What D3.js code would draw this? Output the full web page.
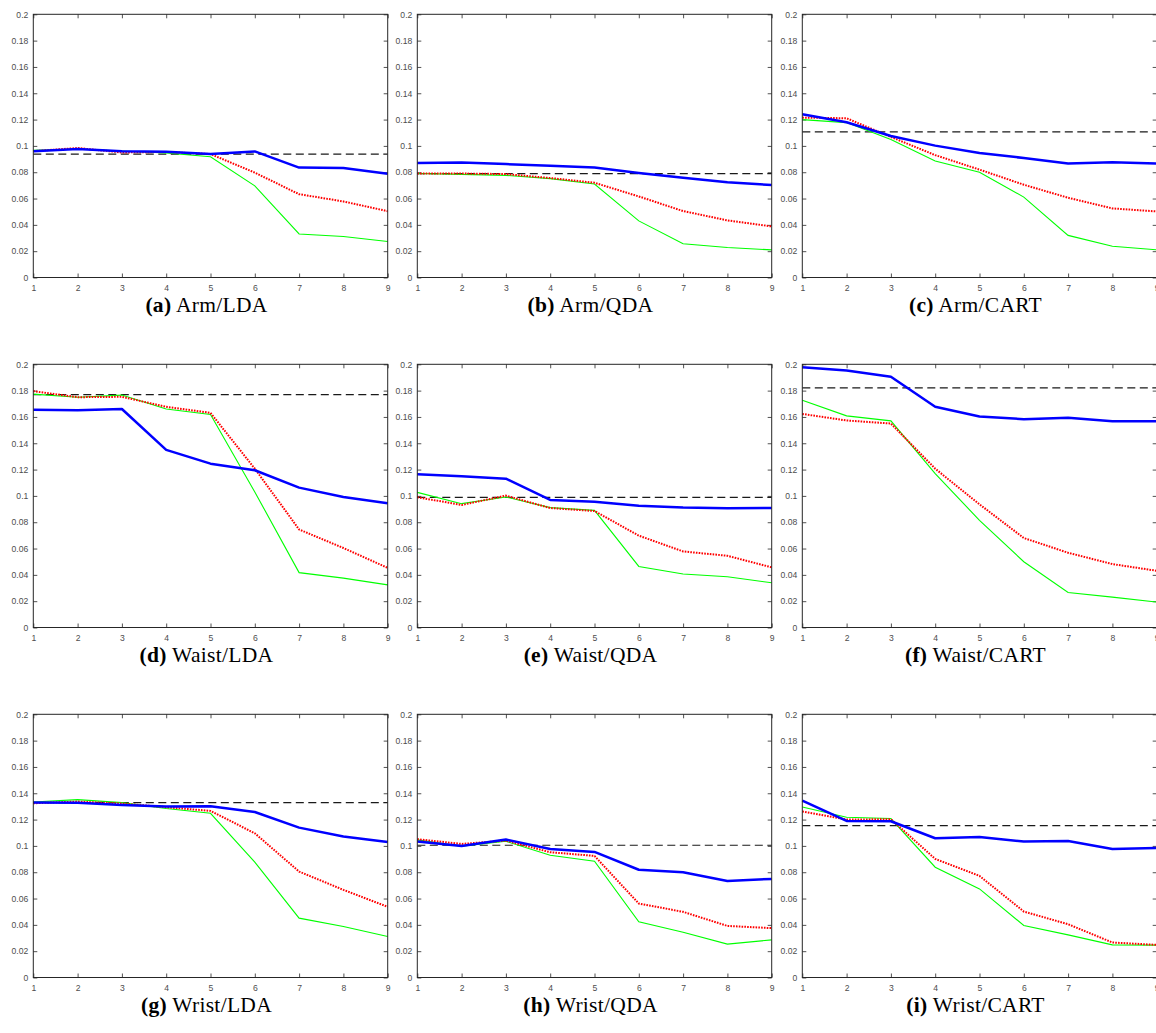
<!DOCTYPE html>
<html>
<head>
<meta charset="utf-8">
<script src="https://cdn.jsdelivr.net/npm/d3@7"></script>
<style>
  html, body { margin: 0; padding: 0; background: #fff; }
  svg { display: block; }
</style>
</head>
<body>
<svg id="chart" width="1156" height="1033"></svg>
<script>
// ---------- DATA ----------
const xValues = [1, 2, 3, 4, 5, 6, 7, 8, 9];
const xTickLabels = ["1", "2", "3", "4", "5", "6", "7", "8", "9"];
const yTicks = [0, 0.02, 0.04, 0.06, 0.08, 0.1, 0.12, 0.14, 0.16, 0.18, 0.2];
const yTickLabels = ["0", "0.02", "0.04", "0.06", "0.08", "0.1", "0.12", "0.14", "0.16", "0.18", "0.2"];

const panelLetters = ["a", "b", "c", "d", "e", "f", "g", "h", "i"];
const panelTitles = ["Arm/LDA", "Arm/QDA", "Arm/CART",
                     "Waist/LDA", "Waist/QDA", "Waist/CART",
                     "Wrist/LDA", "Wrist/QDA", "Wrist/CART"];

// blue solid (thick)
const blueSeries = [
  [0.0960, 0.0977, 0.0960, 0.0956, 0.0938, 0.0958, 0.0835, 0.0832, 0.0789],
  [0.0870, 0.0873, 0.0862, 0.0850, 0.0835, 0.0794, 0.0758, 0.0723, 0.0703],
  [0.1240, 0.1180, 0.1075, 0.1002, 0.0946, 0.0908, 0.0867, 0.0875, 0.0867],
  [0.1654, 0.1650, 0.1660, 0.1350, 0.1245, 0.1195, 0.1063, 0.0992, 0.0945],
  [0.1164, 0.1150, 0.1131, 0.0969, 0.0956, 0.0926, 0.0911, 0.0906, 0.0908],
  [0.1978, 0.1953, 0.1905, 0.1677, 0.1603, 0.1583, 0.1593, 0.1568, 0.1568],
  [0.1330, 0.1327, 0.1311, 0.1299, 0.1301, 0.1258, 0.1139, 0.1071, 0.1030],
  [0.1033, 0.1000, 0.1048, 0.0977, 0.0954, 0.0819, 0.0800, 0.0734, 0.0749],
  [0.1344, 0.1190, 0.1187, 0.1058, 0.1068, 0.1033, 0.1038, 0.0977, 0.0985]
];
// red dotted
const redSeries = [
  [0.0960, 0.0984, 0.0950, 0.0954, 0.0938, 0.0797, 0.0633, 0.0578, 0.0504],
  [0.0790, 0.0790, 0.0786, 0.0756, 0.0720, 0.0616, 0.0505, 0.0434, 0.0388],
  [0.1215, 0.1210, 0.1068, 0.0930, 0.0820, 0.0705, 0.0606, 0.0525, 0.0502],
  [0.1796, 0.1750, 0.1753, 0.1677, 0.1631, 0.1207, 0.0745, 0.0604, 0.0453],
  [0.0990, 0.0931, 0.1002, 0.0908, 0.0885, 0.0698, 0.0578, 0.0545, 0.0457],
  [0.1623, 0.1573, 0.1550, 0.1207, 0.0936, 0.0680, 0.0568, 0.0482, 0.0431],
  [0.1324, 0.1337, 0.1322, 0.1294, 0.1266, 0.1096, 0.0805, 0.0666, 0.0537],
  [0.1051, 0.1015, 0.1040, 0.0952, 0.0924, 0.0562, 0.0499, 0.0392, 0.0375],
  [0.1261, 0.1200, 0.1203, 0.0901, 0.0772, 0.0501, 0.0405, 0.0266, 0.0248]
];
// green thin
const greenSeries = [
  [0.0966, 0.0977, 0.0961, 0.0946, 0.0917, 0.0696, 0.0331, 0.0311, 0.0273],
  [0.0790, 0.0784, 0.0776, 0.0751, 0.0710, 0.0430, 0.0257, 0.0228, 0.0210],
  [0.1200, 0.1177, 0.1048, 0.0885, 0.0800, 0.0611, 0.0320, 0.0238, 0.0210],
  [0.1773, 0.1750, 0.1766, 0.1660, 0.1618, 0.1030, 0.0417, 0.0375, 0.0324],
  [0.1027, 0.0941, 0.0992, 0.0911, 0.0890, 0.0464, 0.0406, 0.0386, 0.0340],
  [0.1727, 0.1608, 0.1570, 0.1170, 0.0814, 0.0500, 0.0266, 0.0231, 0.0193],
  [0.1334, 0.1352, 0.1329, 0.1284, 0.1248, 0.0876, 0.0451, 0.0387, 0.0311],
  [0.1046, 0.0997, 0.1035, 0.0929, 0.0884, 0.0423, 0.0344, 0.0254, 0.0286],
  [0.1296, 0.1218, 0.1208, 0.0838, 0.0673, 0.0395, 0.0324, 0.0248, 0.0246]
];
// black dashed reference level
const baselineValues = [0.0938, 0.0789, 0.1106, 0.1770, 0.0989, 0.1821, 0.1329, 0.1005, 0.1154];

// ---------- LAYOUT ----------
const colLeft = [33.3, 417.3, 802.3];
const rowTop = [14.3, 364.3, 714.3];
const plotW = 354.4;
const plotH = 263.2;

const svg = d3.select("#chart");
svg.append("rect").attr("width", 1156).attr("height", 1033).attr("fill", "#fff");

const axisColor = "#262626";
const labelColor = "#4d4d4d";

panelTitles.forEach((title, i) => {
  const col = i % 3, row = Math.floor(i / 3);
  const g = svg.append("g")
    .attr("transform", `translate(${colLeft[col]},${rowTop[row]})`);

  const x = d3.scaleLinear().domain([1, 9]).range([0, plotW]);
  const y = d3.scaleLinear().domain([0, 0.2]).range([plotH, 0]);

  const styleAxis = sel => {
    sel.select(".domain").remove();
    sel.selectAll(".tick line").attr("stroke", axisColor).attr("stroke-width", 0.8);
    sel.selectAll(".tick text")
      .attr("fill", labelColor)
      .style("font-family", "'Liberation Sans', Arial, Helvetica, sans-serif")
      .style("font-size", "8.6px");
  };

  g.append("g").attr("transform", `translate(0,${plotH})`)
    .call(d3.axisBottom(x).tickValues(xValues)
      .tickFormat((d, k) => xTickLabels[k]).tickSizeInner(-4).tickSizeOuter(0).tickPadding(7))
    .call(styleAxis);
  g.append("g")
    .call(d3.axisTop(x).tickValues(xValues).tickFormat("").tickSizeInner(-4).tickSizeOuter(0))
    .call(styleAxis);
  g.append("g")
    .call(d3.axisLeft(y).tickValues(yTicks)
      .tickFormat((d, k) => yTickLabels[k]).tickSizeInner(-4).tickSizeOuter(0).tickPadding(5))
    .call(styleAxis);
  g.append("g").attr("transform", `translate(${plotW},0)`)
    .call(d3.axisRight(y).tickValues(yTicks).tickFormat("").tickSizeInner(-4).tickSizeOuter(0))
    .call(styleAxis);

  const line = d3.line().x((d, k) => x(xValues[k])).y(d => y(d));

  g.append("line")
    .attr("x1", x(1)).attr("x2", x(9))
    .attr("y1", y(baselineValues[i])).attr("y2", y(baselineValues[i]))
    .attr("stroke", "#1a1a1a").attr("stroke-width", 1.2)
    .attr("stroke-dasharray", "8,4.5");

  g.append("path").datum(greenSeries[i]).attr("d", line)
    .attr("fill", "none").attr("stroke", "#00ff00").attr("stroke-width", 1.1);
  g.append("path").datum(redSeries[i]).attr("d", line)
    .attr("fill", "none").attr("stroke", "#ff0000").attr("stroke-width", 2)
    .attr("stroke-dasharray", "1.6,1.2");
  g.append("path").datum(blueSeries[i]).attr("d", line)
    .attr("fill", "none").attr("stroke", "#0000ff").attr("stroke-width", 2.5)
    .attr("stroke-linejoin", "round");

  g.append("rect").attr("x", 0).attr("y", 0).attr("width", plotW).attr("height", plotH)
    .attr("fill", "none").attr("stroke", axisColor).attr("stroke-width", 1);

  const cap = g.append("text")
    .attr("x", plotW / 2 - 4)
    .attr("y", plotH + 35)
    .attr("text-anchor", "middle")
    .attr("fill", "#000")
    .style("font-family", "'Liberation Serif', 'Times New Roman', serif")
    .style("font-size", "21.5px")
    .style("letter-spacing", "0.3px");
  cap.append("tspan").attr("font-weight", "bold").text(`(${panelLetters[i]})`);
  cap.append("tspan").text(` ${title}`);
});
</script>
</body>
</html>
